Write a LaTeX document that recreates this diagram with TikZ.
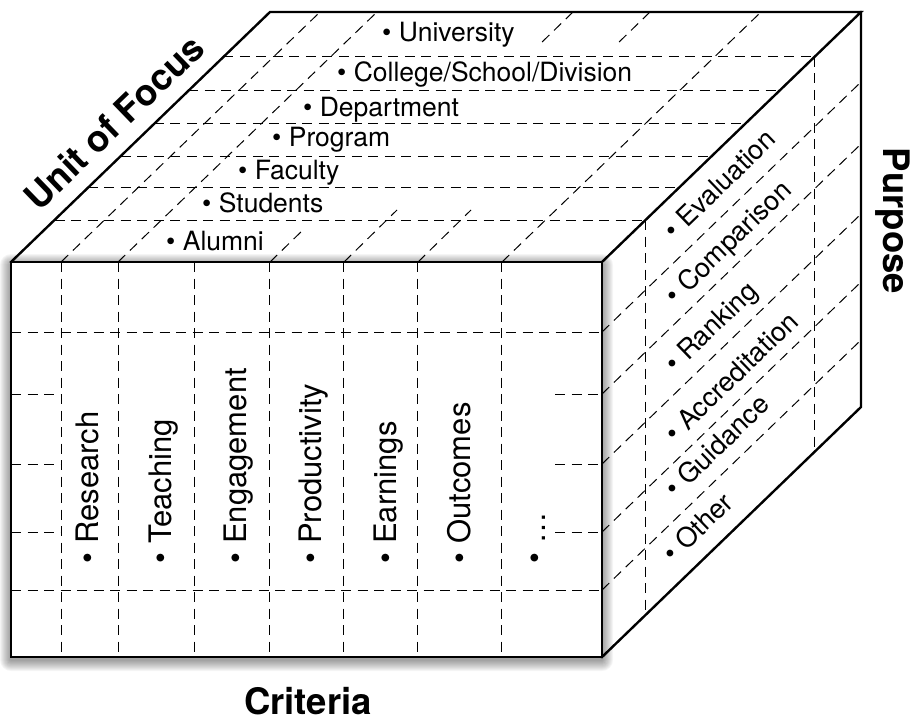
\documentclass[tikz,border=0pt]{standalone}
\usepackage{fontspec}
\setmainfont{TeX Gyre Heros}
\usetikzlibrary{calc}
\begin{document}
\begin{tikzpicture}[x=1pt,y=-1pt,
  edge/.style={line width=2.4pt, line join=miter, line cap=rect},
  gridline/.style={line width=1pt, dash pattern=on 10pt off 6.5pt},
  toplab/.style={anchor=base west, inner sep=0pt, font=\fontsize{26.5}{30}\selectfont},
  frontlab/.style={anchor=base west, inner sep=0pt, rotate=90, font=\fontsize{31}{34}\selectfont},
  sidelab/.style={anchor=base west, inner sep=0pt, rotate=44, font=\fontsize{27}{30}\selectfont},
  title/.style={anchor=base, inner sep=0pt, font=\fontsize{36.5}{40}\selectfont\bfseries}
]
\useasboundingbox (0,0) rectangle (912,722);
% corners of the cube
\coordinate (FTL) at (11,262);
\coordinate (FTR) at (602,262);
\coordinate (FBL) at (11,657);
\coordinate (FBR) at (602,657);
\coordinate (BTL) at (270,12);
\coordinate (BTR) at (861,12);
\coordinate (BBR) at (861,407);

% soft shadow of the front face
\foreach \i in {1,...,11}{
  \fill[black, opacity=0.04, rounded corners=\i pt]
    ($(FTL)+(-\i,-\i+3)$) rectangle ($(FBR)+(\i,\i+3)$);
}

% top face: lines running across
\foreach \t in {0.168,0.296,0.424,0.552,0.684,0.82}{
  \draw[gridline] ($(FTL)!\t!(BTL)$) -- ($(FTR)!\t!(BTR)$);
}
% top face: lines running in depth
\draw[gridline] (61,262) -- ++(259,-250);
\draw[gridline] (118,262) -- ++(259,-250);
\draw[gridline] (502,262) -- ++(259,-250);
\draw[gridline] (270,262) -- ++(35,-34);
\draw[gridline] (344,262) -- ++(53,-52);
\draw[gridline] (418,262) -- ++(53,-52);
\draw[gridline] (573,12) -- ++(-34,33);
\draw[gridline] (650,12) -- ++(-34,33);

% right face
\foreach \t in {0.168,0.82}{
  \draw[gridline] ($(FTR)!\t!(BTR)$) -- ($(FBR)!\t!(BBR)$);
}
\foreach \y in {332,394,464,532,590}{
  \draw[gridline] (602,\y) -- ++(259,-250);
}

% front face
\fill[white] (FTL) rectangle (FBR);
\foreach \x in {61,118,194,269,343.5,417,501}{
  \draw[gridline] (\x,262) -- (\x,657);
}
\foreach \y in {332,590}{
  \draw[gridline] (11,\y) -- (602,\y);
}
\foreach \y in {394,464,532}{
  \draw[gridline] (11,\y) -- (61,\y);
  \draw[gridline] (555,\y) -- (602,\y);
}

% outline
\draw[edge] (FTL) rectangle (FBR);
\draw[edge] (FTL) -- (BTL) -- (BTR) -- (FTR);
\draw[edge] (BTR) -- (BBR) -- (FBR);

% top face labels
\node[toplab] (u1) at (382,42) {• University};
\node[toplab] (u2) at (337,82) {• College/School/Division};
\node[toplab] (u3) at (303,116.5) {• Department};
\node[toplab] (u4) at (272,147) {• Program};
\node[toplab] (u5) at (238,179) {• Faculty};
\node[toplab] (u6) at (202,212) {• Students};
\node[toplab] (u7) at (166,250) {• Alumni};

% front face labels
\node[frontlab] (c1) at (98.7,563.4) {• Research};
\node[frontlab] (c2) at (171.7,563.4) {• Teaching};
\node[frontlab] (c3) at (246.7,563.4) {• Engagement};
\node[frontlab] (c4) at (321.7,563.4) {• Productivity};
\node[frontlab] (c5) at (396.7,563.4) {• Earnings};
\node[frontlab] (c6) at (470.7,563.4) {• Outcomes};
\node[frontlab] (c7) at (545.7,563.4) {• …};

% right face labels
\node[sidelab] (p1) at (674.7,240.6) {• Evaluation};
\node[sidelab] (p2) at (675.7,305.6) {• Comparison};
\node[sidelab] (p3) at (675.7,373.6) {• Ranking};
\node[sidelab] (p4) at (675.7,443.6) {• Accreditation};
\node[sidelab] (p5) at (675.7,498.6) {• Guidance};
\node[sidelab] (p6) at (673.7,563.6) {• Other};

% titles
\node[title, rotate=44] (tu) at (123,132) {Unit of Focus};
\node[title, rotate=-90] (tp) at (883.5,221) {Purpose};
\node[title] (tc) at (308,714) {Criteria};
\end{tikzpicture}
\end{document}
